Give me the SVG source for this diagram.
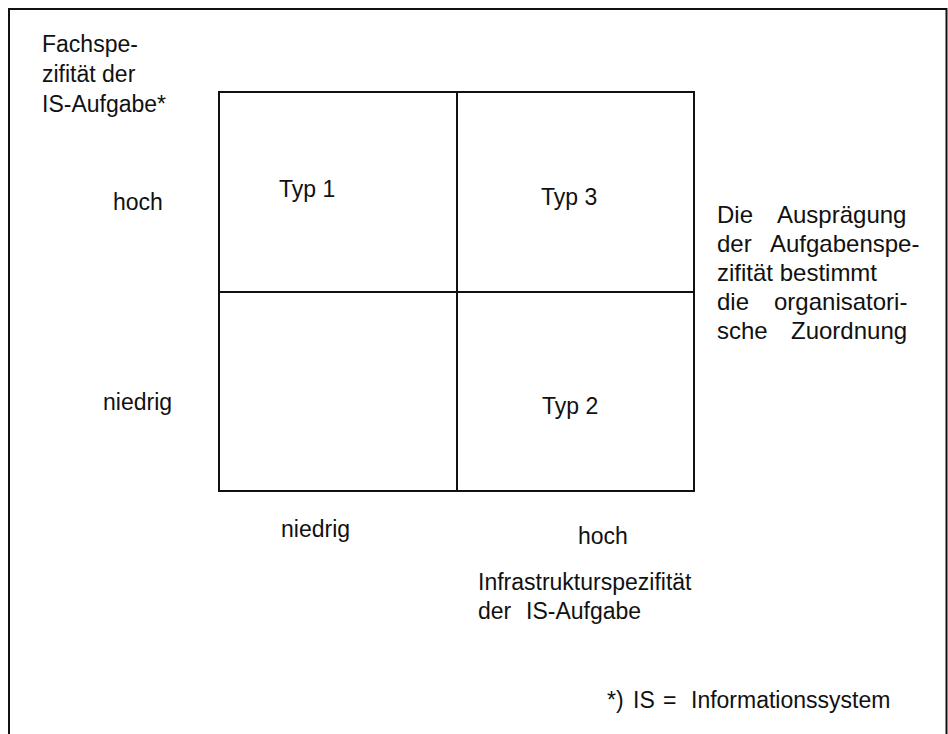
<svg xmlns="http://www.w3.org/2000/svg" width="948" height="734" viewBox="0 0 948 734">
<style>
text{font-family:"Liberation Sans",Arial,Helvetica,sans-serif;font-size:23px;fill:#111}
.big{font-size:24px}
.ln{fill:none;stroke:#111;stroke-width:2}
</style>
<rect width="948" height="734" fill="#fff"/>
<g id="frame"><path class="ln" d="M9,740 V9 H946.5 V740"/></g>
<g id="matrix">
<rect class="ln" x="219" y="92" width="475" height="399"/>
<line class="ln" x1="457" y1="92" x2="457" y2="491"/>
<line class="ln" x1="219" y1="292" x2="694" y2="292"/>
</g>
<g id="y-axis-title"><text x="42" y="52">Fachspe-</text><text x="42" y="82">zifität der</text><text x="42" y="112">IS-Aufgabe*</text></g>
<g id="y-hoch"><text x="113" y="210">hoch</text></g>
<g id="y-niedrig"><text x="103" y="410">niedrig</text></g>
<g id="typ1"><text x="279" y="197">Typ 1</text></g>
<g id="typ3"><text x="541" y="205">Typ 3</text></g>
<g id="typ2"><text x="542" y="414">Typ 2</text></g>
<g id="x-niedrig"><text x="281" y="537">niedrig</text></g>
<g id="x-hoch"><text x="578" y="544">hoch</text></g>
<g id="x-axis-title"><text x="478" y="590">Infrastrukturspezifität</text><text x="478" y="619"><tspan>der</tspan> <tspan x="526">IS-Aufgabe</tspan></text></g>
<g id="note-right">
<text class="big" y="223"><tspan x="717">Die</tspan> <tspan x="777">Ausprägung</tspan></text>
<text class="big" y="252"><tspan x="717">der</tspan> <tspan x="770">Aufgabenspe-</tspan></text>
<text class="big" y="281" x="717">zifität bestimmt</text>
<text class="big" y="310"><tspan x="717">die</tspan> <tspan x="774">organisatori-</tspan></text>
<text class="big" y="339"><tspan x="717">sche</tspan> <tspan x="791">Zuordnung</tspan></text>
</g>
<g id="footnote"><text y="708"><tspan x="607">*)</tspan> <tspan x="633">IS</tspan> <tspan x="663">=</tspan> <tspan x="691">Informationssystem</tspan></text></g>
</svg>
